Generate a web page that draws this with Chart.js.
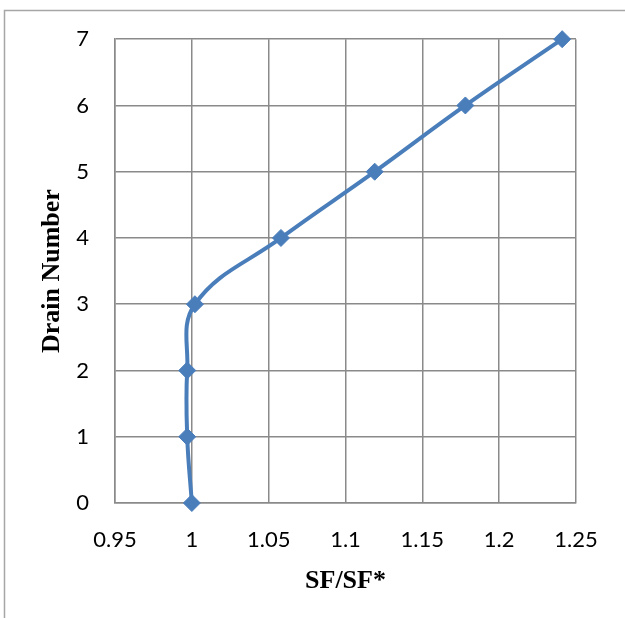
<!DOCTYPE html>
<html>
<head>
<meta charset="utf-8">
<script src="https://cdn.jsdelivr.net/npm/chart.js@4"></script>
<style>
  html, body { margin: 0; padding: 0; background: #fff; }
  #wrap { width: 625px; height: 618px; }
</style>
</head>
<body>
<div id="wrap"><canvas id="chart" width="625" height="618"></canvas></div>
<script>
// values
const sfRatio = [1.000, 0.997, 0.997, 1.002, 1.058, 1.119, 1.178, 1.241];
const drainNumber = [0, 1, 2, 3, 4, 5, 6, 7];
const xTickValues = [0.95, 1, 1.05, 1.1, 1.15, 1.2, 1.25];
const xTickLabels = ['0.95', '1', '1.05', '1.1', '1.15', '1.2', '1.25'];
const yTickValues = [0, 1, 2, 3, 4, 5, 6, 7];

const lineBlue = '#4a7ebb';
const gridGray = '#8a8a8a';

// outer frame around the chart
const framePlugin = {
    id: 'frame',
    beforeDraw(chart) {
        const ctx = chart.ctx;
        ctx.save();
        ctx.fillStyle = '#fff';
        ctx.fillRect(0, 0, chart.width, chart.height);
        ctx.strokeStyle = '#a6a6a6';
        ctx.lineWidth = 1.5;
        ctx.strokeRect(4.5, 10.5, 1000, 1000);
        ctx.restore();
    }
};

const points = sfRatio.map((x, i) => ({ x, y: drainNumber[i] }));

new Chart(document.getElementById('chart'), {
    type: 'scatter',
    data: {
        datasets: [{
            data: points,
            showLine: true,
            borderColor: lineBlue,
            borderWidth: 4,
            tension: 0.4,
            backgroundColor: lineBlue,
            pointStyle: 'rectRot',
            pointRadius: 8.5,
            pointBorderWidth: 1,
            pointBorderColor: lineBlue,
            pointBackgroundColor: lineBlue,
            clip: false
        }]
    },
    options: {
        responsive: false,
        animation: false,
        layout: { padding: { top: 38, right: 49, left: 0, bottom: 0 } },
        plugins: {
            legend: { display: false },
            tooltip: { enabled: false }
        },
        scales: {
            x: {
                type: 'linear',
                min: 0.95,
                max: 1.25,
                afterFit: (scale) => { scale.height = 115; },
                afterBuildTicks: (scale) => { scale.ticks = xTickValues.map(v => ({ value: v })); },
                grid: { color: gridGray, lineWidth: 1.5, drawTicks: false },
                border: { color: gridGray, width: 1.5 },
                ticks: {
                    padding: 24,
                    color: '#000',
                    font: { family: 'Lato', size: 22 },
                    maxRotation: 0,
                    callback: (value, index) => xTickLabels[index]
                },
                title: {
                    display: true,
                    text: 'SF/SF*',
                    color: '#000',
                    font: { family: 'Liberation Serif', size: 26, weight: 'bold' },
                    padding: { top: 0, bottom: 21 }
                }
            },
            y: {
                type: 'linear',
                min: 0,
                max: 7,
                afterFit: (scale) => { scale.width = 115; },
                afterBuildTicks: (scale) => { scale.ticks = yTickValues.map(v => ({ value: v })); },
                grid: { color: gridGray, lineWidth: 1.5, drawTicks: false },
                border: { color: gridGray, width: 1.5 },
                ticks: {
                    padding: 26,
                    color: '#000',
                    font: { family: 'Lato', size: 22 },
                    callback: (value) => String(value)
                },
                title: {
                    display: true,
                    text: 'Drain Number',
                    color: '#000',
                    font: { family: 'Liberation Serif', size: 26, weight: 'bold' },
                    padding: { top: 37, bottom: 0 }
                }
            }
        }
    },
    plugins: [framePlugin]
});
</script>
</body>
</html>
